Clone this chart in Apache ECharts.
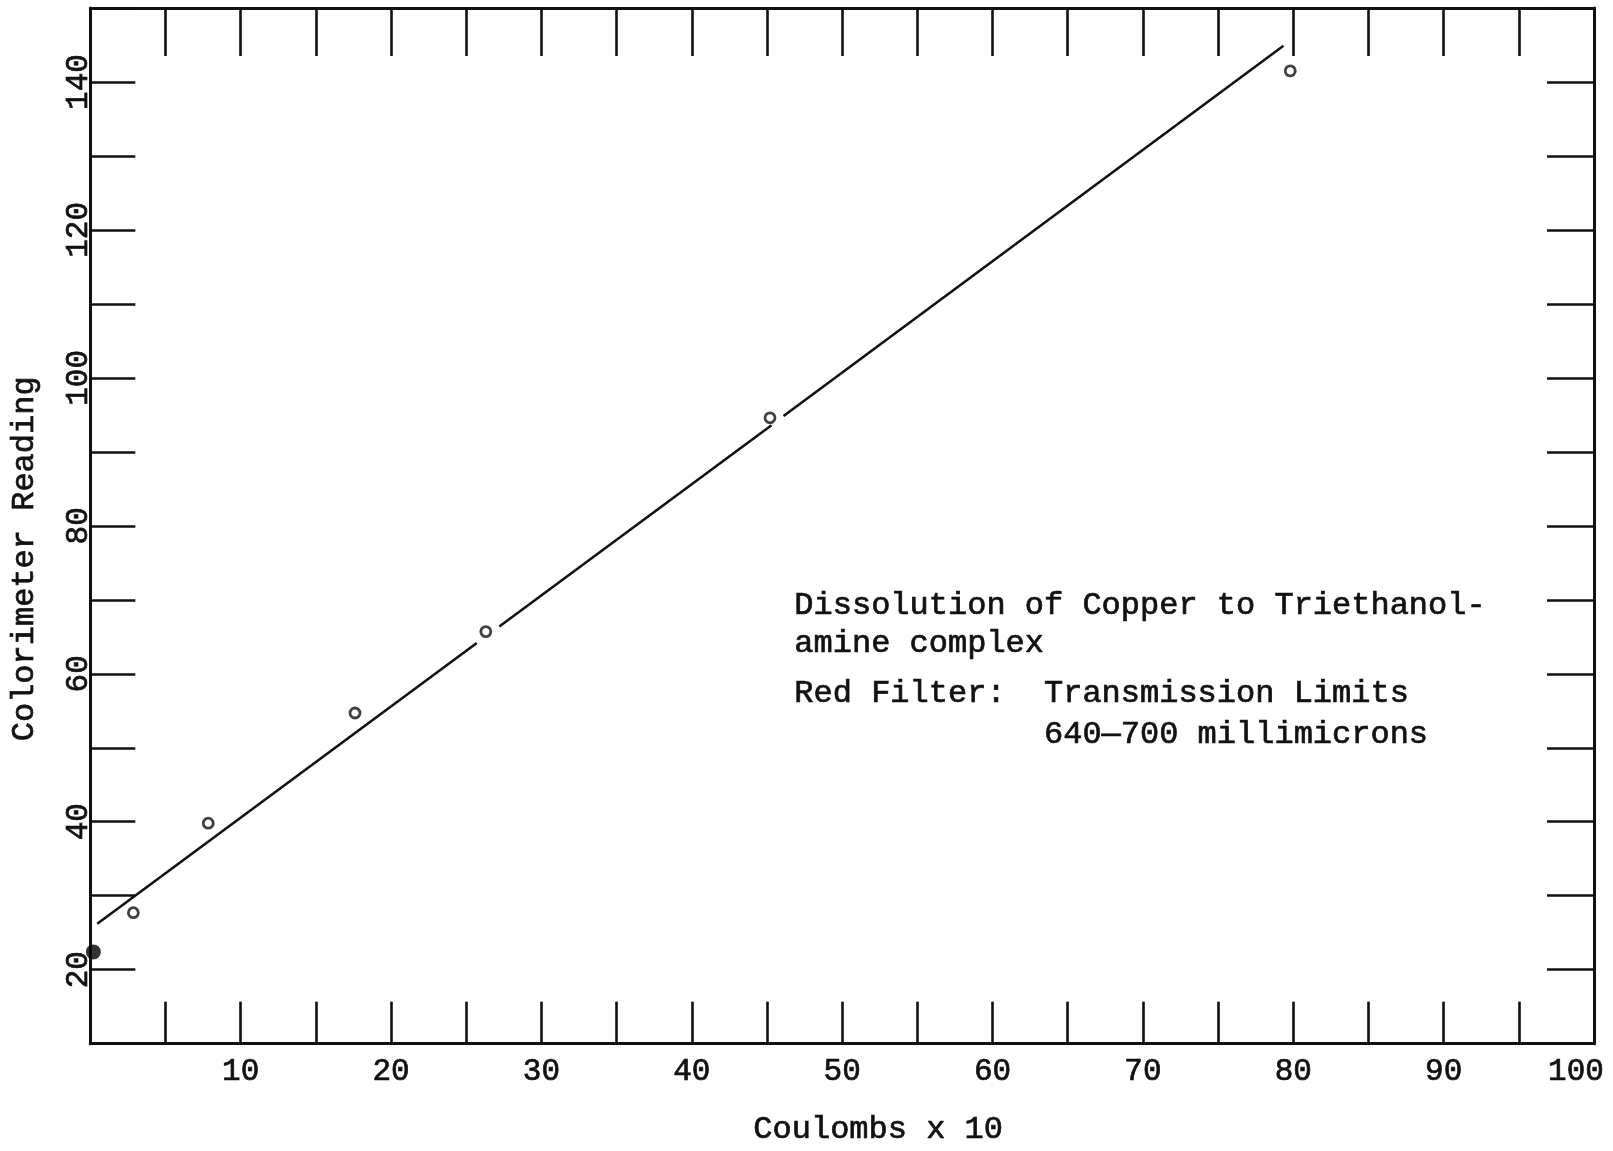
<!DOCTYPE html>
<html>
<head>
<meta charset="utf-8">
<title>Dissolution of Copper to Triethanolamine complex</title>
<script src="https://cdn.jsdelivr.net/npm/echarts@6/dist/echarts.min.js"></script>
<style>
  html, body { margin: 0; padding: 0; background: #fff; }
  #chart { width: 1613px; height: 1151px; }
</style>
</head>
<body>
<div id="chart"></div>
<script>
// Measured colorimeter readings against charge passed (coulombs x 10)
const coulombs = [2.86, 7.84, 17.6, 26.3, 45.2, 79.8];
const readings = [27.7, 39.8, 54.7, 65.7, 94.6, 141.5];

// Blank reading at zero charge (filled dot)
const blankCoulombs = [0.2];
const blankReadings = [22.4];

// Hand-drawn straight line through the points, broken around two of the circles
const lineX = [0.46, 25.7, null, 27.2, 45.3, null, 46.1, 79.35];
const lineY = [26.2, 64.15, null, 66.4, 93.6, null, 94.85, 144.9];

// Axis tick labels
const xTickLabels = ['10', '20', '30', '40', '50', '60', '70', '80', '90', '100'];
const yTickLabels = ['20', '40', '60', '80', '100', '120', '140'];

// Note typed inside the plot
const noteLines = [
  'Dissolution of Copper to Triethanol-',
  'amine complex',
  'Red Filter:  Transmission Limits',
  '             640\u2014700 millimicrons'
];

const FONT = '"Liberation Mono", "Courier New", monospace';
const INK = '#111';
// a thin outline in the ink colour gives the typed letters a heavier stroke
const typed = { color: INK, fontFamily: FONT, textBorderColor: INK, textBorderWidth: 0.7 };

const toPairs = (xs, ys) => xs.map((x, i) => (x === null ? ['-', '-'] : [x, ys[i]]));

const chart = echarts.init(document.getElementById('chart'), null, { renderer: 'canvas' });

const axisLine = { show: true, onZero: false, lineStyle: { color: INK, width: 3 } };
const tickStyle = { color: INK, width: 2.6 };

chart.setOption({
  backgroundColor: '#ffffff',
  animation: false,
  grid: { left: 88, right: 19, top: 8, bottom: 99, containLabel: false },
  xAxis: [
    {
      type: 'value', position: 'bottom', min: 0, max: 100, interval: 5,
      axisLine: axisLine,
      axisTick: { show: true, inside: true, length: 42, lineStyle: tickStyle },
      splitLine: { show: false },
      axisLabel: Object.assign({
        margin: 13, fontSize: 31,
        formatter: v => {
          const s = String(v);
          if (!xTickLabels.includes(s)) return '';
          // the last label sits a little inside the frame corner
          return s === '100' ? '{end|' + s + '}' : s;
        },
        rich: { end: Object.assign({ fontSize: 31, padding: [0, 36, 0, 0] }, typed) }
      }, typed),
      name: 'Coulombs x 10', nameLocation: 'middle', nameGap: 70,
      nameTextStyle: Object.assign({ fontSize: 32, padding: [0, 0, 0, 72] }, typed)
    },
    {
      type: 'value', position: 'top', min: 0, max: 100, interval: 5,
      axisLine: axisLine,
      axisTick: { show: true, inside: true, length: 48, lineStyle: tickStyle },
      splitLine: { show: false },
      axisLabel: { show: false }
    }
  ],
  yAxis: [
    {
      type: 'value', position: 'left', min: 10, max: 150, interval: 10,
      axisLine: axisLine,
      axisTick: { show: true, inside: true, length: 45, lineStyle: tickStyle },
      splitLine: { show: false },
      axisLabel: Object.assign({
        rotate: 90, margin: -4, fontSize: 31,
        formatter: v => (yTickLabels.includes(String(v)) ? String(v) : '')
      }, typed),
      name: 'Colorimeter Reading', nameLocation: 'middle', nameGap: 50, nameRotate: 90,
      nameTextStyle: Object.assign({ fontSize: 32, padding: [0, 66, 0, 0] }, typed)
    },
    {
      type: 'value', position: 'right', min: 10, max: 150, interval: 10,
      axisLine: axisLine,
      axisTick: { show: true, inside: true, length: 47, lineStyle: tickStyle },
      splitLine: { show: false },
      axisLabel: { show: false }
    }
  ],
  series: [
    {
      name: 'Fitted line', type: 'line', xAxisIndex: 0, yAxisIndex: 0,
      data: toPairs(lineX, lineY),
      showSymbol: false, connectNulls: false, silent: true,
      lineStyle: { color: INK, width: 2.6 }
    },
    {
      name: 'Readings', type: 'scatter', xAxisIndex: 0, yAxisIndex: 0,
      data: coulombs.map((x, i) => [x, readings[i]]),
      symbol: 'circle', symbolSize: 10,
      itemStyle: { color: '#fff', borderColor: INK, borderWidth: 2.8 }
    },
    {
      name: 'Blank', type: 'scatter', xAxisIndex: 0, yAxisIndex: 0,
      data: blankCoulombs.map((x, i) => [x, blankReadings[i]]),
      symbol: 'circle', symbolSize: 15,
      itemStyle: { color: '#000' }
    }
  ],
  graphic: noteLines.map((t, i) => ({
    type: 'text',
    left: 794,
    top: [589, 627, 677, 718][i],
    style: { text: t, fill: INK, stroke: INK, lineWidth: 0.7, font: '32px ' + FONT }
  }))
});
</script>
</body>
</html>
